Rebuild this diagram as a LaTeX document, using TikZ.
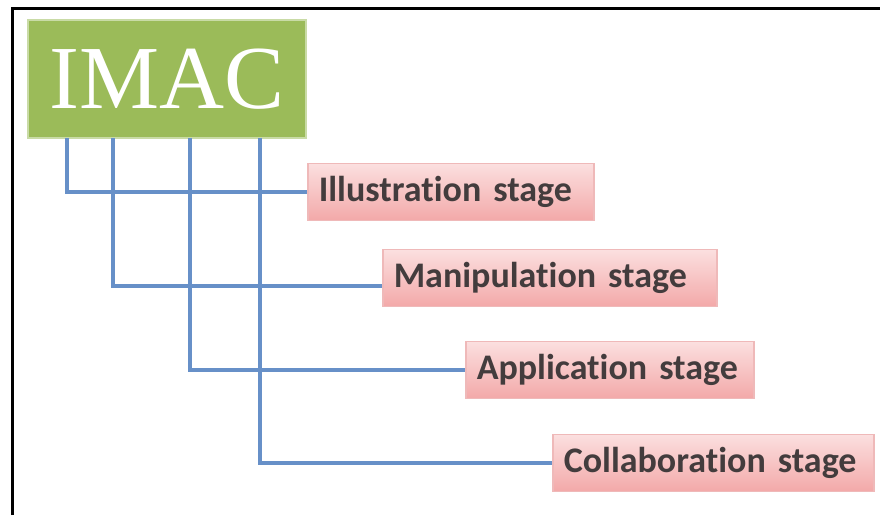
\documentclass[tikz,border=0pt]{standalone}
\usepackage{fontspec}
\setmainfont{Liberation Serif}
\newfontfamily\stagefont[Ligatures=NoCommon]{Carlito}

\definecolor{imacgreen}{HTML}{9BBB59}
\definecolor{imacedge}{HTML}{C9DBA6}
\definecolor{linkblue}{HTML}{6790C8}
\definecolor{stagetop}{HTML}{FBDFDF}
\definecolor{stagebot}{HTML}{F3A9A9}
\definecolor{stageedge}{HTML}{EFB9B9}
\definecolor{stagetext}{HTML}{433C3D}

\tikzset{
	imacbox/.style={draw=imacedge, line width=1.5pt, fill=imacgreen, text=white, inner sep=0pt,
		minimum width=278pt, minimum height=118pt, font=\fontsize{90}{90}\selectfont},
	stagebox/.style={draw=stageedge, line width=1.5pt, top color=stagetop, bottom color=stagebot,
		text=stagetext, anchor=west, align=left, inner xsep=11pt, inner ysep=0pt,
		minimum height=57pt, font=\stagefont\bfseries\fontsize{36}{40}\selectfont},
	link/.style={draw=linkblue, line width=4.5pt}
}

\begin{document}
\begin{tikzpicture}[x=1pt,y=-1pt]
	\useasboundingbox (0,0) rectangle (880,515);
	% frame
	\draw[line width=3pt] (12,515) -- (12,8.5) -- (880,8.5);

	\node[imacbox] (imac) at (167,79) {IMAC};

	\node[stagebox, text width=264pt] (illus) at (307,192) {Illustration stage};
	\node[stagebox, text width=312pt] (manip) at (382,278) {Manipulation stage};
	\node[stagebox, text width=266pt] (appl) at (465,370) {Application stage};
	\node[stagebox, text width=299pt] (collab) at (552,463) {Collaboration stage};

	\coordinate (r1) at (67,138);
	\coordinate (r2) at (113,138);
	\coordinate (r3) at (190,138);
	\coordinate (r4) at (260,138);

	\draw[link] (r1) |- (illus.west);
	\draw[link] (r2) |- ([yshift=-8pt]manip.west);
	\draw[link] (r3) |- (appl.west);
	\draw[link] (r4) |- (collab.west);
\end{tikzpicture}
\end{document}
